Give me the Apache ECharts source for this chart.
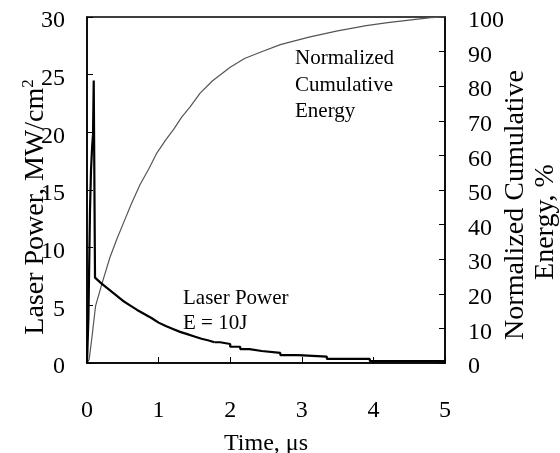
<!DOCTYPE html>
<html>
<head>
<meta charset="utf-8">
<script src="https://cdn.jsdelivr.net/npm/echarts@6/dist/echarts.min.js"></script>
<style>
html,body{margin:0;padding:0;background:#fff;}
#chart{width:560px;height:453px;}
</style>
</head>
<body>
<div id="chart"></div>
<script>
// Laser power (MW/cm^2): pulse peak + decay (smooth part)
var powerT = [0, 0.02, 0.042, 0.056, 0.072, 0.084, 0.094, 0.112, 0.2, 0.3, 0.4, 0.5, 0.6, 0.7, 0.8, 0.9, 1.0, 1.1, 1.2, 1.3, 1.4, 1.5, 1.6, 1.7, 1.78];
var powerV = [0, 4, 13.3, 16.7, 18.8, 19.8, 24.5, 7.4, 6.9, 6.4, 5.9, 5.4, 5.0, 4.6, 4.25, 3.9, 3.5, 3.2, 2.95, 2.7, 2.5, 2.3, 2.1, 1.95, 1.8];
// Laser power tail (stair-stepped)
var tailT = [1.78, 1.86, 2.0, 2.14, 2.27, 2.44, 2.7, 2.95, 3.35, 3.95, 5.0];
var tailV = [1.8, 1.65, 1.41, 1.21, 1.04, 0.87, 0.69, 0.55, 0.35, 0.17, 0.17];
// Normalized cumulative energy (%)
var cumT = [0, 0.03, 0.07, 0.1, 0.12, 0.21, 0.32, 0.42, 0.51, 0.62, 0.74, 0.86, 0.97, 1.1, 1.21, 1.32, 1.44, 1.58, 1.75, 2.0, 2.2, 2.42, 2.7, 3.1, 3.5, 3.9, 4.2, 4.5, 4.8, 5.0];
var cumV = [0, 1, 7.6, 13, 16.5, 23, 30.5, 36, 40.5, 46, 51.5, 56, 60.5, 64.5, 67.5, 71, 74, 78, 81.5, 85.5, 88, 89.8, 92, 94.2, 96, 97.5, 98.4, 99.1, 99.8, 100];
// Axis ticks
var xTicks = [0, 5, 1];
var yLeftTicks = [0, 30, 5];
var yRightTicks = [0, 100, 10];

function pairs(t, v) { return t.map(function (x, i) { return [x, v[i]]; }); }

var FONT = "'Liberation Serif', 'Times New Roman', serif";
var chart = echarts.init(document.getElementById('chart'), null, {renderer: 'canvas'});

var axisCommon = {
  axisLine: {show: true, lineStyle: {color: '#000', width: 1.5}},
  axisTick: {show: true, inside: true, length: 6, lineStyle: {color: '#000', width: 1}},
  splitLine: {show: false},
  axisLabel: {color: '#000', fontFamily: FONT, fontSize: 24}
};

chart.setOption({
  animation: false,
  backgroundColor: '#fff',
  grid: {left: 87, right: 115, top: 17, bottom: 90, containLabel: false, outerBoundsMode: 'none',
         show: true, borderColor: '#000', borderWidth: 1.5, backgroundColor: 'transparent'},
  xAxis: Object.assign({}, axisCommon, {
    type: 'value', min: xTicks[0], max: xTicks[1], interval: xTicks[2],
    axisLabel: Object.assign({}, axisCommon.axisLabel, {margin: 36}),
    name: 'Time, \u03bcs', nameLocation: 'middle', nameGap: 69,
    nameTextStyle: {color: '#000', fontFamily: FONT, fontSize: 24}
  }),
  yAxis: [
    Object.assign({}, axisCommon, {
      type: 'value', min: yLeftTicks[0], max: yLeftTicks[1], interval: yLeftTicks[2], position: 'left',
      axisLabel: Object.assign({}, axisCommon.axisLabel, {margin: 22, verticalAlign: 'top', lineHeight: 8})
    }),
    Object.assign({}, axisCommon, {
      type: 'value', min: yRightTicks[0], max: yRightTicks[1], interval: yRightTicks[2], position: 'right',
      axisLabel: Object.assign({}, axisCommon.axisLabel, {margin: 23, verticalAlign: 'top', lineHeight: 8})
    })
  ],
  series: [
    {
      name: 'Cumulative', type: 'line', yAxisIndex: 1, showSymbol: false, symbol: 'none',
      data: pairs(cumT, cumV),
      lineStyle: {color: '#555', width: 1.2}
    },
    {
      name: 'Laser Power', type: 'line', yAxisIndex: 0, showSymbol: false, symbol: 'none',
      data: pairs(powerT, powerV),
      lineStyle: {color: '#000', width: 2.2}
    },
    {
      name: 'Laser Power tail', type: 'line', yAxisIndex: 0, showSymbol: false, symbol: 'none', step: 'end',
      data: pairs(tailT, tailV),
      lineStyle: {color: '#000', width: 2.2}
    }
  ],
  graphic: [
    {
      type: 'text', x: 36, y: 207, rotation: Math.PI / 2,
      style: {
        text: 'Laser Power, MW/cm{sup|2}', fill: '#000', font: '28px ' + FONT,
        align: 'center', verticalAlign: 'middle',
        rich: {sup: {fontSize: 17, fontFamily: FONT, fill: '#000', verticalAlign: 'top', padding: [0, 0, 14, 0]}}
      }
    },
    {
      type: 'text', x: 516, y: 205, rotation: Math.PI / 2,
      style: {text: 'Normalized Cumulative', fill: '#000', font: '28px ' + FONT, align: 'center', verticalAlign: 'middle'}
    },
    {
      type: 'text', x: 546, y: 222, rotation: Math.PI / 2,
      style: {text: 'Energy, %', fill: '#000', font: '28px ' + FONT, align: 'center', verticalAlign: 'middle'}
    },
    {
      type: 'text', x: 295, y: 58,
      style: {text: 'Normalized', fill: '#000', font: '21px ' + FONT, align: 'left', verticalAlign: 'middle'}
    },
    {
      type: 'text', x: 295, y: 85,
      style: {text: 'Cumulative', fill: '#000', font: '21px ' + FONT, align: 'left', verticalAlign: 'middle'}
    },
    {
      type: 'text', x: 295, y: 111,
      style: {text: 'Energy', fill: '#000', font: '21px ' + FONT, align: 'left', verticalAlign: 'middle'}
    },
    {
      type: 'text', x: 183, y: 298,
      style: {text: 'Laser Power', fill: '#000', font: '21px ' + FONT, align: 'left', verticalAlign: 'middle'}
    },
    {
      type: 'text', x: 183, y: 323,
      style: {text: 'E = 10J', fill: '#000', font: '21px ' + FONT, align: 'left', verticalAlign: 'middle'}
    }
  ]
});
</script>
</body>
</html>
